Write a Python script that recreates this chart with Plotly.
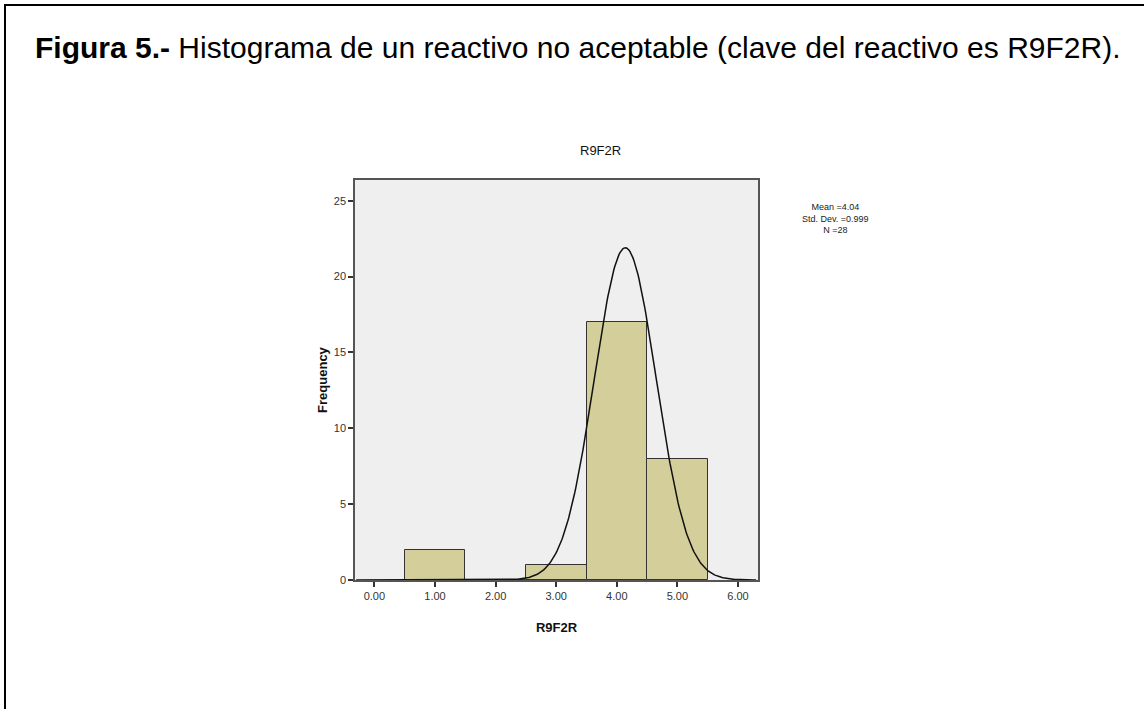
import numpy as np
import plotly.graph_objects as go

# Histogram data for item R9F2R (bin centres and counts)
bin_centers = [1, 2, 3, 4, 5]
counts = [2, 0, 1, 17, 8]
x_tick_vals = [0, 1, 2, 3, 4, 5, 6]
x_tick_text = ["0.00", "1.00", "2.00", "3.00", "4.00", "5.00", "6.00"]
y_tick_vals = [0, 5, 10, 15, 20, 25]

# Normal curve drawn over the bars
curve_mean = 4.14
curve_sd = 0.51
bin_width = 1.0

# Summary statistics from the binned data
n = sum(counts)
values = np.repeat(bin_centers, counts)
mean = values.mean()
sd = values.std(ddof=1)

xs = np.linspace(-0.3, 6.3, 400)
ys = n * bin_width * np.exp(-0.5 * ((xs - curve_mean) / curve_sd) ** 2) / (curve_sd * np.sqrt(2 * np.pi))

W, H = 1144, 709
L, R, T, B = 355, 758, 180, 580


def px(x):
    return (x - L) / (R - L)


def py(y):
    return (B - y) / (B - T)


FONT = "Liberation Sans, Arial, sans-serif"

fig = go.Figure()
fig.add_trace(go.Bar(
    x=bin_centers, y=counts, width=bin_width,
    marker=dict(color="#D3CE9A", line=dict(color="#333333", width=1)),
    hoverinfo="x+y",
))
fig.add_trace(go.Scatter(
    x=xs, y=ys, mode="lines",
    line=dict(color="#111111", width=1.5),
    hoverinfo="skip",
))

fig.update_layout(
    width=W, height=H,
    margin=dict(l=L, r=W - R, t=T, b=H - B, pad=0),
    paper_bgcolor="white",
    plot_bgcolor="#EFEFEF",
    showlegend=False,
    font=dict(family=FONT, color="#333333"),
    bargap=0,
    xaxis=dict(
        range=[-0.32, 6.33], tickvals=x_tick_vals, ticktext=x_tick_text,
        ticks="outside", ticklen=5, tickwidth=1.5, tickcolor="#333333",
        showline=True, mirror=True, linecolor="#555555", linewidth=1.5,
        showgrid=False, zeroline=False,
        tickfont=dict(size=11, color="#333333"),
        title=dict(text="<b>R9F2R</b>", font=dict(size=13, color="#111111"), standoff=22),
    ),
    yaxis=dict(
        range=[0, 26.37], tickvals=y_tick_vals,
        ticks="outside", ticklen=5, tickwidth=1.5, tickcolor="#333333",
        showline=True, mirror=True, linecolor="#555555", linewidth=1.5,
        showgrid=False, zeroline=False,
        tickfont=dict(size=11, color="#333333"),
        title=dict(text="<b>Frequency</b>", font=dict(size=13, color="#111111"), standoff=3),
    ),
)

annotations = [
    dict(text="<b>Figura 5.-</b> Histograma de un reactivo no aceptable (clave del reactivo es R9F2R).",
         x=px(33), y=py(48), xanchor="left", yanchor="middle",
         font=dict(size=30, color="#000000", family=FONT)),
    dict(text="R9F2R", x=px(600), y=py(150), xanchor="center", yanchor="middle",
         font=dict(size=13, color="#111111", family=FONT)),
    dict(text=f"Mean ={mean:.2f}<br>Std. Dev. ={sd:.3f}<br>N ={n}",
         x=px(835), y=py(218), xanchor="center", yanchor="middle", align="center",
         font=dict(size=9, color="#222222", family=FONT)),
]
for a in annotations:
    a.update(xref="paper", yref="paper", showarrow=False)
fig.update_layout(annotations=annotations)

# Outer figure frame: top and left rules
fig.add_shape(type="line", xref="paper", yref="paper",
              x0=px(4), x1=px(W), y0=py(5), y1=py(5),
              line=dict(color="#000000", width=2))
fig.add_shape(type="line", xref="paper", yref="paper",
              x0=px(5), x1=px(5), y0=py(4), y1=py(H),
              line=dict(color="#000000", width=2))

fig.write_html("out.html")
